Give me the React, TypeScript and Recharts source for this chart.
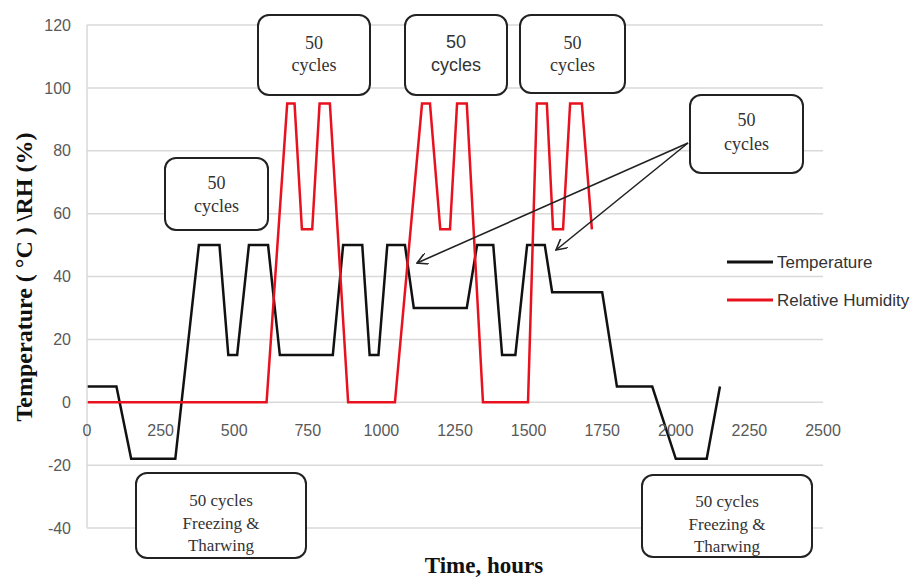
import React from 'react';
import { LineChart, Line, XAxis, YAxis, CartesianGrid } from 'recharts';

const timeTicks = [0, 250, 500, 750, 1000, 1250, 1500, 1750, 2000, 2250, 2500];
const valueTicks = [-40, -20, 0, 20, 40, 60, 80, 100, 120];

// temperature profile (hours, °C)
const tempHours = [0, 100, 150, 300, 380, 450, 480, 510, 550, 615, 655, 835, 870, 935, 960, 990, 1020, 1080, 1110, 1290, 1325, 1380, 1410, 1455, 1495, 1555, 1580, 1750, 1800, 1920, 2000, 2105, 2150];
const tempValues = [5, 5, -18, -18, 50, 50, 15, 15, 50, 50, 15, 15, 50, 50, 15, 15, 50, 50, 30, 30, 50, 50, 15, 15, 50, 50, 35, 35, 5, 5, -18, -18, 5];

// relative humidity profile (hours, %)
const rhHours = [0, 610, 680, 705, 730, 765, 790, 825, 887, 1046, 1138, 1165, 1200, 1233, 1257, 1290, 1345, 1498, 1528, 1562, 1583, 1617, 1641, 1681, 1715];
const rhValues = [0, 0, 95, 95, 55, 55, 95, 95, 0, 0, 95, 95, 55, 55, 95, 95, 0, 0, 95, 95, 55, 55, 95, 95, 55];

const tempData = tempHours.map((h, i) => ({ hour: h, value: tempValues[i] }));
const rhData = rhHours.map((h, i) => ({ hour: h, value: rhValues[i] }));

const series = [
  { name: 'Temperature', color: '#111' },
  { name: 'Relative Humidity', color: '#e8121f' },
];

const SERIF = '"Liberation Serif", "Times New Roman", serif';
const SANS = '"Liberation Sans", Arial, sans-serif';

const TimeTick = (props: any) => {
  const { x, y, payload } = props;
  // labels sit just under the zero line rather than at the bottom of the plot
  return (
    <text x={x} y={y} dy={-100} textAnchor="middle" fontSize={16} fill="#595959" fontFamily={SANS}>
      {payload.value}
    </text>
  );
};

const Box = ({ x, y, w, h, lines, lineY, font = SERIF, size = 18, weight = 'normal' }: any) => (
  <g>
    <rect x={x} y={y} width={w} height={h} rx={11} ry={11} fill="#fff" stroke="#222" strokeWidth={2} />
    {lines.map((t: string, i: number) => (
      <text key={i} x={x + w / 2} y={lineY[i]} textAnchor="middle" fontFamily={font} fontSize={size} fontWeight={weight} fill="#333">
        {t}
      </text>
    ))}
  </g>
);

export default function App() {
  return (
    <div style={{ position: 'absolute', left: 0, top: 0, width: 923, height: 580, background: '#fff' }}>
      <LineChart width={923} height={580} margin={{ top: 25, right: 100, bottom: 22, left: 0 }}>
        <CartesianGrid vertical={false} stroke="#d9d9d9" strokeWidth={1.5} />
        <XAxis
          dataKey="hour"
          type="number"
          domain={[0, 2500]}
          ticks={timeTicks}
          axisLine={false}
          tickLine={false}
          height={30}
          tick={<TimeTick />}
          allowDuplicatedCategory={false}
        />
        <YAxis
          type="number"
          domain={[-40, 120]}
          ticks={valueTicks}
          width={87}
          axisLine={{ stroke: '#d9d9d9', strokeWidth: 1.5 }}
          tickLine={false}
          tick={{ fontSize: 16, fill: '#595959', fontFamily: SANS }}
          tickMargin={10}
        />
        <Line data={tempData} dataKey="value" name={series[0].name} type="linear" stroke={series[0].color} strokeWidth={2.5} dot={false} isAnimationActive={false} />
        <Line data={rhData} dataKey="value" name={series[1].name} type="linear" stroke={series[1].color} strokeWidth={2.5} dot={false} isAnimationActive={false} />
      </LineChart>

      <svg width={923} height={580} style={{ position: 'absolute', left: 0, top: 0, pointerEvents: 'none' }}>
        <defs>
          <marker id="head" markerWidth={12} markerHeight={12} refX={11} refY={6} orient="auto" markerUnits="userSpaceOnUse">
            <path d="M0,0 L11,6 L0,12" fill="none" stroke="#222" strokeWidth={1.6} />
          </marker>
        </defs>
        <Box x={165} y={158} w={103} h={72} lines={['50', 'cycles']} lineY={[189, 212]} />
        <Box x={258} y={15} w={112} h={80} lines={['50', 'cycles']} lineY={[49, 71]} />
        <Box x={405} y={15} w={102} h={80} lines={['50', 'cycles']} lineY={[48, 71]} font={SANS} size={18} />
        <Box x={520} y={15} w={105} h={78} lines={['50', 'cycles']} lineY={[49, 71]} />
        <Box x={690} y={95} w={113} h={78} lines={['50', 'cycles']} lineY={[126, 150]} />
        <Box x={136} y={473} w={170} h={85} lines={['50 cycles', 'Freezing &', 'Tharwing']} lineY={[506, 529, 551]} size={17} />
        <Box x={642} y={475} w={170} h={82} lines={['50 cycles', 'Freezing &', 'Tharwing']} lineY={[507, 530, 552]} size={17} />

        <line x1={688} y1={143} x2={417} y2={263} stroke="#222" strokeWidth={1.6} markerEnd="url(#head)" />
        <line x1={688} y1={143} x2={556} y2={250} stroke="#222" strokeWidth={1.6} markerEnd="url(#head)" />

        {series.map((s, i) => (
          <g key={s.name}>
            <line x1={727} x2={773} y1={262 + i * 38} y2={262 + i * 38} stroke={s.color} strokeWidth={3} />
            <text x={777} y={268 + i * 38} fontFamily={SANS} fontSize={17} fill="#333">
              {s.name}
            </text>
          </g>
        ))}

        <text x={484} y={573} textAnchor="middle" fontFamily={SERIF} fontSize={23} fontWeight="bold" fill="#111">
          Time, hours
        </text>
        <text
          transform="translate(32,277) rotate(-90)"
          textAnchor="middle"
          fontFamily={SERIF}
          fontSize={24}
          fontWeight="bold"
          fill="#111"
        >
          Temperature ( °C ) \RH (%)
        </text>
      </svg>
    </div>
  );
}
